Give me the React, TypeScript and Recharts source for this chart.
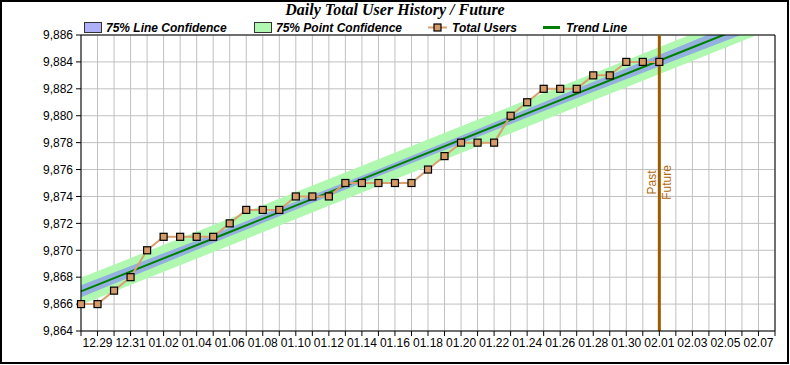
import { ComposedChart, Line, Area, XAxis, YAxis, CartesianGrid, ReferenceLine } from "recharts";

// one label per day, 12.28 .. 02.08 (only every other one is printed)
const dates = [
  "12.28", "12.29", "12.30", "12.31",
  "01.01", "01.02", "01.03", "01.04", "01.05", "01.06", "01.07", "01.08", "01.09", "01.10",
  "01.11", "01.12", "01.13", "01.14", "01.15", "01.16", "01.17", "01.18", "01.19", "01.20",
  "01.21", "01.22", "01.23", "01.24", "01.25", "01.26", "01.27", "01.28", "01.29", "01.30",
  "01.31", "02.01", "02.02", "02.03", "02.04", "02.05", "02.06", "02.07", "02.08",
];

const totalUsers = [
  9866, 9866, 9867, 9868, 9870, 9871, 9871, 9871, 9871, 9872, 9873, 9873,
  9873, 9874, 9874, 9874, 9875, 9875, 9875, 9875, 9875, 9876, 9877, 9878,
  9878, 9878, 9880, 9881, 9882, 9882, 9882, 9883, 9883, 9884, 9884, 9884,
];

// trend + confidence bands, read at a few days along the axis
const bandDays = [0, 9, 18, 27, 36, 42];
const trendLine = [9866.95, 9871.36, 9875.77, 9880.18, 9884.59, 9887.53];
const lineConfLow = [9866.5, 9871.04, 9875.51, 9879.86, 9884.14, 9886.98];
const lineConfHigh = [9867.4, 9871.68, 9876.03, 9880.5, 9885.04, 9888.08];
const pointConfLow = [9865.95, 9870.36, 9874.77, 9879.18, 9883.59, 9886.53];
const pointConfHigh = [9867.95, 9872.36, 9876.77, 9881.18, 9885.59, 9888.53];

const yTicks = [9864, 9866, 9868, 9870, 9872, 9874, 9876, 9878, 9880, 9882, 9884, 9886];
const dividerDay = 35; // 02.01

const rows = dates.map((label, i) => {
  const b = bandDays.indexOf(i);
  return {
    day: i,
    label,
    users: totalUsers[i],
    trend: b >= 0 ? trendLine[b] : undefined,
    lineConf: b >= 0 ? [lineConfLow[b], lineConfHigh[b]] : undefined,
    pointConf: b >= 0 ? [pointConfLow[b], pointConfHigh[b]] : undefined,
  };
});

const sans = "'Liberation Sans', Arial, sans-serif";

const SquareDot = (props: any) => {
  const { cx, cy, index } = props;
  if (cx == null || cy == null || isNaN(cy)) return <g key={index} />;
  return (
    <rect key={index} x={cx - 3.5} y={cy - 3.5} width={7} height={7}
      fill="#D49A68" stroke="#000" strokeWidth={1.2} />
  );
};

const PastFuture = (props: any) => {
  const x = props.viewBox?.x ?? 0;
  return (
    <g>
      <text transform={`translate(${x - 3.5},182.5) rotate(-90)`} textAnchor="middle"
        fill="#B06A10" fontSize={12} fontFamily={sans}>Past</text>
      <text transform={`translate(${x + 12},182.5) rotate(-90)`} textAnchor="middle"
        fill="#B06A10" fontSize={12} fontFamily={sans}>Future</text>
    </g>
  );
};

export default function App() {
  return (
    <div style={{ position: "absolute", left: 0, top: 0, width: 790, height: 365, background: "#fff" }}>
      <div style={{ position: "absolute", left: 0, top: 0, width: 789, height: 364, border: "2px solid #000", boxSizing: "border-box" }} />
      <div style={{ position: "absolute", left: 0, top: 0 }}>
        <ComposedChart width={790} height={365} data={rows}
          margin={{ top: 35, right: 15, left: 0, bottom: 9 }}>
          <CartesianGrid stroke="#c0c0c0" />
          <XAxis dataKey="day" type="number" domain={[0, 42]} ticks={dates.map((_, i) => i)}
            interval={0} height={25} tickSize={5} tickMargin={2}
            stroke="#000" tick={{ fill: "#000", fontSize: 12, fontFamily: sans }}
            tickFormatter={(v: number) => (v % 2 === 1 ? dates[v] : "")} />
          <YAxis type="number" domain={[9864, 9886]} ticks={yTicks} allowDataOverflow
            width={81} tickSize={5} tickMargin={3} stroke="#000"
            tick={{ fill: "#000", fontSize: 12, fontFamily: sans }}
            tickFormatter={(v: number) => v.toLocaleString("en-US")} />
          <Area dataKey="pointConf" type="linear" connectNulls fill="#b0f8b0" fillOpacity={1}
            stroke="none" isAnimationActive={false} />
          <Area dataKey="lineConf" type="linear" connectNulls fill="#8080ff" fillOpacity={0.6}
            stroke="none" isAnimationActive={false} />
          <Line dataKey="trend" type="linear" connectNulls stroke="#008000" strokeWidth={2}
            dot={false} isAnimationActive={false} />
          <ReferenceLine y={9886} stroke="#000" />
          <ReferenceLine x={42} stroke="#000" />
          <ReferenceLine x={dividerDay} stroke="#A05A00" strokeWidth={3} label={<PastFuture />} />
          <Line dataKey="users" type="linear" stroke="#D8A070" strokeWidth={2}
            dot={SquareDot} activeDot={false} isAnimationActive={false} />
        </ComposedChart>
      </div>
      <svg width={790} height={34} style={{ position: "absolute", left: 0, top: 0 }}>
        <text x={395} y={15} textAnchor="middle" fontSize={16} fontWeight="bold" fontStyle="italic"
          fontFamily="'Liberation Serif', 'Times New Roman', serif">Daily Total User History / Future</text>
        <g fontFamily={sans} fontSize={12} fontWeight="bold" fontStyle="italic">
          <rect x={84.5} y={22.5} width={17} height={10} fill="#b0b0f8" stroke="#333" />
          <text x={106} y={31.5}>75% Line Confidence</text>
          <rect x={254.5} y={22.5} width={17} height={10} fill="#b0f8b0" stroke="#333" />
          <text x={276} y={31.5}>75% Point Confidence</text>
          <line x1={428} x2={447} y1={27.5} y2={27.5} stroke="#D8A070" strokeWidth={2} />
          <rect x={434} y={24} width={7} height={7} fill="#D49A68" stroke="#000" strokeWidth={1.2} />
          <text x={452} y={31.5}>Total Users</text>
          <line x1={543} x2={560} y1={27.5} y2={27.5} stroke="#008000" strokeWidth={3} />
          <text x={566} y={31.5}>Trend Line</text>
        </g>
      </svg>
    </div>
  );
}
